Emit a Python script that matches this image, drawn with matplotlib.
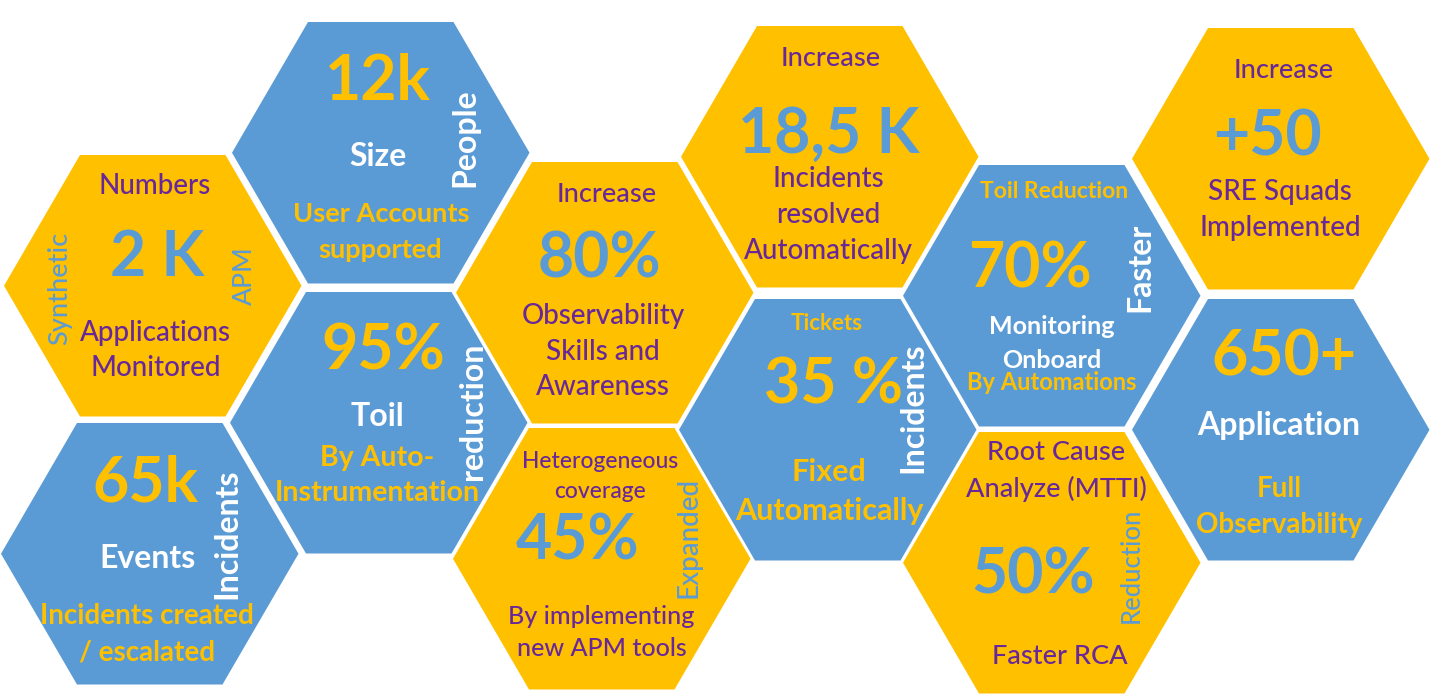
import matplotlib.pyplot as plt
from matplotlib.patches import Polygon

BLUE = '#5B9BD5'
GOLD = '#FFC000'
PURPLE = '#68289A'
WHITE = 'white'
W, H = 1431, 696

plt.rcParams['font.family'] = ['Lato', 'DejaVu Sans']

# left, top, fill of each hexagon (all the same size)
hex_left = [232, 4, 1, 230, 456, 453, 681, 679, 903, 903, 1132, 1132]
hex_top = [22, 155, 423, 292, 162, 428, 26, 299, 165, 432, 28, 299]
hex_fill = [BLUE, GOLD, BLUE, BLUE, GOLD, GOLD, GOLD, BLUE, BLUE, GOLD, GOLD, BLUE]
HEX_W, HEX_H, HEX_INSET = 297.5, 261.5, 76

big_labels = ['12k', '2 K', '65k', '95%', '80%', '45%', '18,5 K', '35 %', '70%', '50%', '+50', '650+']
big_x = [378, 157, 145, 383, 599, 578, 829, 833, 1030, 1033, 1268, 1284]
big_y = [82, 258, 483, 352, 260, 541, 135, 385, 270, 575, 137, 357]
big_color = [GOLD, BLUE, GOLD, GOLD, BLUE, BLUE, BLUE, GOLD, GOLD, BLUE, BLUE, GOLD]

labels = ['Size', 'User Accounts', 'supported', 'People',
          'Numbers', 'Applications', 'Monitored', 'Synthetic', 'APM',
          'Events', 'Incidents created', '/ escalated', 'Incidents',
          'Toil', 'By Auto-', 'Instrumentation', 'reduction',
          'Increase', 'Observability', 'Skills and', 'Awareness',
          'Heterogeneous', 'coverage', 'By implementing', 'new APM tools', 'Expanded',
          'Increase', 'Incidents', 'resolved', 'Automatically',
          'Tickets', 'Fixed', 'Automatically', 'Incidents',
          'Toil Reduction', 'Monitoring', 'Onboard', 'By Automations', 'Faster',
          'Root Cause', 'Analyze (MTTI)', 'Faster RCA', 'Reduction',
          'Increase', 'SRE Squads', 'Implemented',
          'Application', 'Full', 'Observability']
label_x = [378, 381, 380, 465,
           155, 155, 156, 60, 244,
           147, 147, 147, 227,
           377, 377, 377, 472,
           607, 603, 603, 603,
           600, 600, 601, 602, 688,
           831, 828, 828, 828,
           827, 829, 829, 913,
           1054, 1052, 1052, 1052, 1140,
           1056, 1056, 1060, 1131,
           1284, 1280, 1280,
           1279, 1279, 1279]
label_y = [156, 214, 250, 138,
           186, 333, 368, 288, 276,
           559, 616, 652, 534,
           416, 458, 493, 411,
           194, 316, 352, 387,
           462, 492, 617, 649, 537,
           58, 179, 215, 251,
           323, 472, 511, 408,
           192, 327, 360, 383, 267,
           453, 489, 657, 565,
           70, 192, 228,
           425, 489, 525]
label_size = [23, 19.5, 19.5, 23,
              20, 20, 20, 19.5, 19,
              23, 20, 20, 23,
              23, 20.5, 20.5, 23,
              19.5, 20, 20, 20,
              16.5, 16.5, 18, 18, 20,
              19.5, 20, 20, 20,
              16, 22, 22, 23,
              16.5, 18, 18, 17, 23,
              19.5, 19.5, 19.5, 18.5,
              19.5, 20, 20,
              23, 20, 20]
label_color = [WHITE, GOLD, GOLD, WHITE,
               PURPLE, PURPLE, PURPLE, BLUE, BLUE,
               WHITE, GOLD, GOLD, WHITE,
               WHITE, GOLD, GOLD, WHITE,
               PURPLE, PURPLE, PURPLE, PURPLE,
               PURPLE, PURPLE, PURPLE, PURPLE, BLUE,
               PURPLE, PURPLE, PURPLE, PURPLE,
               GOLD, GOLD, GOLD, WHITE,
               GOLD, WHITE, WHITE, GOLD, WHITE,
               PURPLE, PURPLE, PURPLE, BLUE,
               PURPLE, PURPLE, PURPLE,
               WHITE, GOLD, GOLD]
label_rot = [0, 0, 0, 90,
             0, 0, 0, 90, 90,
             0, 0, 0, 90,
             0, 0, 0, 90,
             0, 0, 0, 0,
             0, 0, 0, 0, 90,
             0, 0, 0, 0,
             0, 0, 0, 90,
             0, 0, 0, 0, 90,
             0, 0, 0, 90,
             0, 0, 0,
             0, 0, 0]
label_bold = [i for i, c in enumerate(label_color) if c != PURPLE and c != BLUE]

fig = plt.figure(figsize=(W / 100, H / 100), dpi=100)
ax = fig.add_axes([0, 0, 1, 1])
ax.set_xlim(0, W)
ax.set_ylim(H, 0)
ax.axis('off')

for left, top, fill in zip(hex_left, hex_top, hex_fill):
    right, bottom = left + HEX_W, top + HEX_H
    mid = top + HEX_H / 2
    pts = [(left, mid), (left + HEX_INSET, top), (right - HEX_INSET, top),
           (right, mid), (right - HEX_INSET, bottom), (left + HEX_INSET, bottom)]
    ax.add_patch(Polygon(pts, closed=True, facecolor=fill, edgecolor='none'))

for s, x, y, c in zip(big_labels, big_x, big_y, big_color):
    ax.text(x, y, s, color=c, fontsize=45, fontweight='bold', ha='center', va='center')

for i, s in enumerate(labels):
    ax.text(label_x[i], label_y[i], s, color=label_color[i], fontsize=label_size[i],
            fontweight='bold' if i in label_bold else 'medium',
            rotation=label_rot[i], ha='center', va='center')

fig.savefig('out.png', dpi=100)
